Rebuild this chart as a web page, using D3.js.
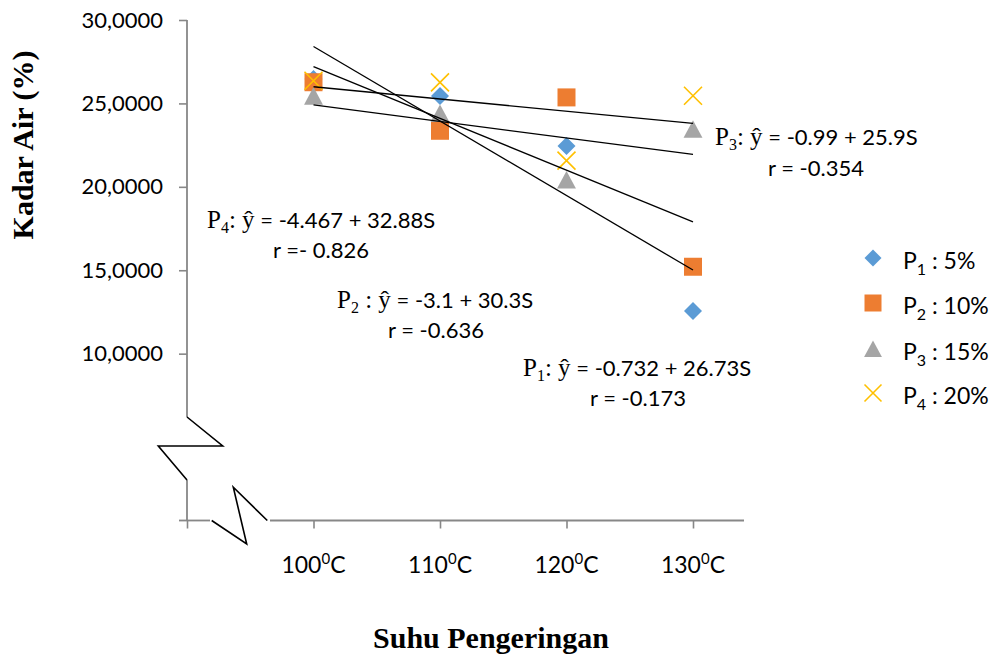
<!DOCTYPE html>
<html>
<head>
<meta charset="utf-8">
<script src="https://cdn.jsdelivr.net/npm/d3@7"></script>
<style>
  body { margin: 0; background: #fff; }
  svg { display: block; }
</style>
</head>
<body>
<div id="chart"></div>
<script>
// data
const temps = ["100", "110", "120", "130"];
const sValues = [1, 2, 3, 4];
const p1 = [26.46, 25.44, 22.45, 12.55];
const p2 = [26.27, 23.36, 25.36, 15.21];
const p3 = [25.44, 24.40, 20.41, 23.45];
const p4 = [26.36, 26.26, 21.57, 25.46];
const seriesSub = ["1", "2", "3", "4"];
const seriesPct = ["5%", "10%", "15%", "20%"];
const colors = ["#5B9BD5", "#ED7D31", "#A5A5A5", "#FFC000"];
const shapes = ["diamond", "square", "triangle", "cross"];

// trend lines: y = intercept + slope * S
const slopes = [-0.732, -3.1, -0.99, -4.467];
const intercepts = [26.73, 30.3, 25.9, 32.88];
const eqSep = [":", " :", ":", ":"];
const eqRest = [" = -0.732 + 26.73S", " = -3.1 + 30.3S", " = -0.99 + 25.9S", " = -4.467 + 32.88S"];
const rText = ["r = -0.173", "r = -0.636", "r = -0.354", "r =- 0.826"];

const yTicks = [10, 15, 20, 25, 30];

const width = 997, height = 657;
const sans = "Lato, 'Liberation Sans', sans-serif";
const serif = "'Liberation Serif', 'Times New Roman', serif";
const axisGray = "#878787";

const svg = d3.select("#chart").append("svg")
  .attr("width", width)
  .attr("height", height);

const x = d3.scaleLinear().domain([0, 4]).range([187, 693]);
const y = d3.scaleLinear().domain([0, 30]).range([520.5, 20]);

const comma = d3.formatLocale({decimal: ",", thousands: ".", grouping: [3], currency: ["", ""]});

// y axis (domain line drawn by hand because of the break)
const yAxis = svg.append("g")
  .attr("transform", `translate(${x(0)},0)`)
  .call(d3.axisLeft(y).tickValues(yTicks).tickSize(8).tickPadding(16).tickFormat(comma.format(".4f")));
yAxis.select(".domain").remove();
yAxis.selectAll(".tick line").attr("stroke", axisGray).attr("stroke-width", 1.6);
yAxis.selectAll(".tick text")
  .attr("font-family", sans).attr("font-size", 22).attr("fill", "#000");

// x axis
const xAxis = svg.append("g")
  .attr("transform", `translate(0,${y(0)})`)
  .call(d3.axisBottom(x).tickValues([0].concat(sValues)).tickSize(8).tickFormat(""));
xAxis.select(".domain").remove();
xAxis.selectAll(".tick line").attr("stroke", axisGray).attr("stroke-width", 1.6);

const xLab = svg.append("g").selectAll("text")
  .data(sValues)
  .join("text")
  .attr("x", d => x(d))
  .attr("y", y(0) + 52)
  .attr("text-anchor", "middle")
  .attr("font-family", sans)
  .attr("font-size", 23);
xLab.append("tspan").text((d, i) => temps[i]);
xLab.append("tspan").attr("dy", -9).attr("font-size", 15).text("0");
xLab.append("tspan").attr("dy", 9).text("C");

// axis lines with breaks
const x0 = x(0), yb = y(0);
const axisLines = [
  [[x0, y(30)], [x0, 417]],
  [[x0, 480], [x0, yb]],
  [[x0 - 8, yb], [210, yb]],
  [[270, yb], [744, yb]]
];
svg.append("g").selectAll("path")
  .data(axisLines)
  .join("path")
  .attr("d", d => d3.line()(d))
  .attr("stroke", axisGray)
  .attr("stroke-width", 1.8)
  .attr("fill", "none");

const breaks = [
  [[x0, 417], [222.7, 446], [158.3, 446], [x0, 480]],
  [[211.7, yb], [246.7, 544], [233.3, 487.3], [267.3, yb]]
];
svg.append("g").selectAll("path")
  .data(breaks)
  .join("path")
  .attr("d", d => d3.line()(d))
  .attr("stroke", "#000")
  .attr("stroke-width", 1.6)
  .attr("fill", "none");

// marker shapes
function shapePath(kind, r) {
  if (kind === "diamond") return `M0,${-r}L${r},0L0,${r}L${-r},0Z`;
  if (kind === "square") return `M${-r},${-r}H${r}V${r}H${-r}Z`;
  if (kind === "triangle") return `M0,${-r}L${r * 1.05},${r * 0.95}L${-r * 1.05},${r * 0.95}Z`;
  return `M${-r},${-r}L${r},${r}M${r},${-r}L${-r},${r}`;
}

const series = [p1, p2, p3, p4];
series.forEach((vals, si) => {
  svg.append("g").selectAll("path")
    .data(vals)
    .join("path")
    .attr("transform", (d, i) => `translate(${x(sValues[i])},${y(d)})`)
    .attr("d", shapePath(shapes[si], 9))
    .attr("fill", shapes[si] === "cross" ? "none" : colors[si])
    .attr("stroke", shapes[si] === "cross" ? colors[si] : "none")
    .attr("stroke-width", 1.6);
});

// trend lines from the equations
svg.append("g").selectAll("line")
  .data(slopes)
  .join("line")
  .attr("x1", x(1))
  .attr("x2", x(4))
  .attr("y1", (d, i) => y(intercepts[i] + d * 1))
  .attr("y2", (d, i) => y(intercepts[i] + d * 4))
  .attr("stroke", "#000")
  .attr("stroke-width", 1.3);

// equation labels
const eqPos = [[523, 376, 590, 406], [337, 308, 388, 338], [715, 145, 768, 176], [207, 228, 273, 258]];
eqPos.forEach((p, i) => {
  const t = svg.append("text").attr("x", p[0]).attr("y", p[1]).attr("font-size", 22);
  t.append("tspan").attr("font-family", serif).attr("font-size", 25).text("P");
  t.append("tspan").attr("font-family", serif).attr("font-size", 16).attr("dy", 5).text(seriesSub[i]);
  t.append("tspan").attr("font-family", serif).attr("font-size", 25).attr("dy", -5).text(eqSep[i] + " ŷ");
  t.append("tspan").attr("font-family", sans).text(eqRest[i]);
  svg.append("text").attr("x", p[2]).attr("y", p[3])
    .attr("font-family", sans).attr("font-size", 22).text(rText[i]);
});

// legend
const legY = [258, 303, 349, 393];
const leg = svg.append("g").selectAll("g")
  .data(seriesSub)
  .join("g")
  .attr("transform", (d, i) => `translate(873,${legY[i]})`);
leg.append("path")
  .attr("d", (d, i) => shapePath(shapes[i], 8.5))
  .attr("fill", (d, i) => shapes[i] === "cross" ? "none" : colors[i])
  .attr("stroke", (d, i) => shapes[i] === "cross" ? colors[i] : "none")
  .attr("stroke-width", 1.6);
const legText = leg.append("text")
  .attr("x", 30).attr("y", 11)
  .attr("font-family", sans).attr("font-size", 23);
legText.append("tspan").text("P");
legText.append("tspan").attr("font-size", 16).attr("dy", 6).text(d => d);
legText.append("tspan").attr("dy", -6).text((d, i) => " : " + seriesPct[i]);

// axis titles
svg.append("text")
  .attr("transform", "translate(33,145) rotate(-90)")
  .attr("text-anchor", "middle")
  .attr("font-family", serif).attr("font-weight", "bold").attr("font-size", 30)
  .text("Kadar Air (%)");

svg.append("text")
  .attr("x", 491).attr("y", 648)
  .attr("text-anchor", "middle")
  .attr("font-family", serif).attr("font-weight", "bold").attr("font-size", 30)
  .text("Suhu Pengeringan");
</script>
</body>
</html>
